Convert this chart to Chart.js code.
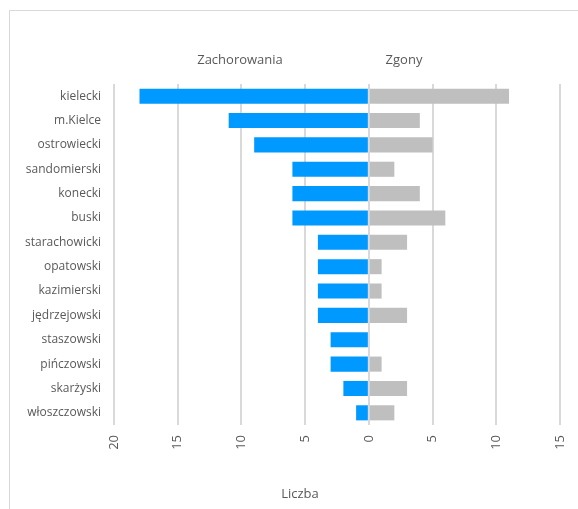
<!DOCTYPE html>
<html>
<head>
<meta charset="utf-8">
<script src="https://cdn.jsdelivr.net/npm/chart.js@4"></script>
<style>
html,body{margin:0;padding:0;background:#fff;overflow:hidden;}
#wrap{position:relative;width:578px;height:509px;}
#frame{position:absolute;left:9px;top:10px;width:620px;height:560px;border:1px solid #d9d9d9;box-sizing:border-box;}
canvas{position:absolute;left:0;top:0;}
</style>
</head>
<body>
<div id="wrap">
<div id="frame"></div>
<canvas id="c" width="578" height="509"></canvas>
</div>
<script>
const categories = ["kielecki","m.Kielce","ostrowiecki","sandomierski","konecki","buski","starachowicki","opatowski","kazimierski","jędrzejowski","staszowski","pińczowski","skarżyski","włoszczowski"];
const zachorowania = [18,11,9,6,6,6,4,4,4,4,3,3,2,1];
const zgony = [11,4,5,2,4,6,3,1,1,3,0,1,3,2];
const seriesNames = ["Zachorowania","Zgony"];
const axisTitle = "Liczba";
const xMin = -20, xMax = 15, xStep = 5;

const FONT = "Open Sans";
const TXT = "#595959";

const headerPlugin = {
  id: 'headers',
  afterDraw(chart) {
    const ctx = chart.ctx;
    ctx.save();
    ctx.fillStyle = TXT;
    ctx.font = "13px '" + FONT + "'";
    ctx.textAlign = 'center';
    ctx.textBaseline = 'middle';
    ctx.fillText(seriesNames[0], 240, 60);
    ctx.fillText(seriesNames[1], 404, 60);
    ctx.fillText(axisTitle, 300, 494);
    ctx.restore();
  }
};

new Chart(document.getElementById('c'), {
  type: 'bar',
  data: {
    labels: categories,
    datasets: [
      { label: seriesNames[0], data: zachorowania.map(v => -v), backgroundColor: '#0099ff', barPercentage: 0.62, categoryPercentage: 1 },
      { label: seriesNames[1], data: zgony, backgroundColor: '#bfbfbf', barPercentage: 0.62, categoryPercentage: 1 }
    ]
  },
  options: {
    indexAxis: 'y',
    responsive: false,
    animation: false,
    layout: { padding: { top: 84, right: 18, left: 0, bottom: 0 } },
    plugins: { legend: { display: false }, tooltip: { enabled: false } },
    scales: {
      x: {
        stacked: true,
        min: xMin, max: xMax,
        afterFit(s) { s.height = 84; s.paddingLeft = 0; s.paddingRight = 0; },
        ticks: {
          stepSize: xStep,
          minRotation: 90, maxRotation: 90,
          padding: 10,
          color: TXT,
          font: { family: FONT, size: 13 },
          callback: v => Math.abs(v)
        },
        grid: { color: '#d9d9d9', lineWidth: 2, drawTicks: false },
        border: { display: false }
      },
      y: {
        stacked: true,
        afterFit(s) { s.width = 114; s.paddingTop = 0; s.paddingBottom = 0; },
        ticks: { color: TXT, font: { family: FONT, size: 12 }, padding: 13, autoSkip: false },
        grid: { display: false, drawTicks: false },
        border: { display: false }
      }
    }
  },
  plugins: [headerPlugin]
});
</script>
</body>
</html>
